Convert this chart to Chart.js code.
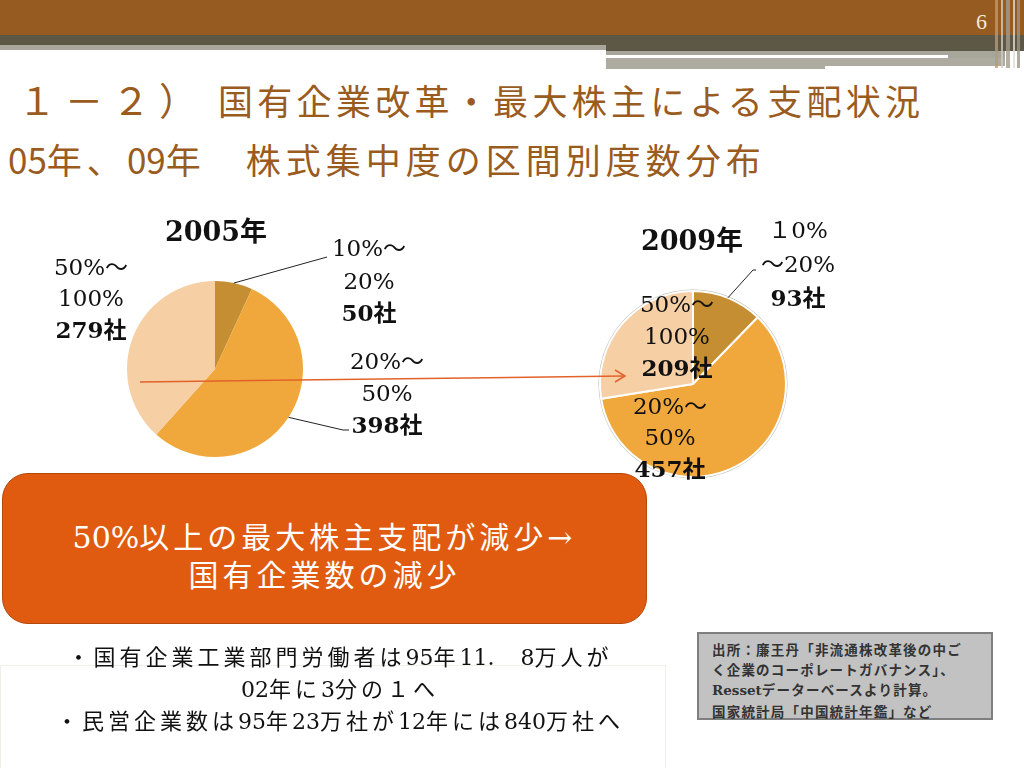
<!DOCTYPE html>
<html lang="ja">
<head>
<meta charset="utf-8">
<title>国有企業改革・最大株主による支配状況</title>
<script src="https://cdn.jsdelivr.net/npm/chart.js@4.4.1/dist/chart.umd.min.js"></script>
<style>
  html, body { margin: 0; padding: 0; background: #fff; }
  #slide { position: relative; width: 1024px; height: 768px; overflow: hidden; background: #fff; }
  .abs { position: absolute; }
  .band { position: absolute; }
  .gothic { font-family: "Noto Sans CJK JP", sans-serif; }
  .mix { font-family: "DejaVu Serif", "Noto Sans CJK JP", serif; }
  .n { letter-spacing: 0; }
  .title { color: #9A5B1E; line-height: 1; white-space: nowrap; font-weight: normal; }
  .lbl { position: absolute; text-align: center; white-space: nowrap; color: #111; font-size: 23px; transform: translateX(-50%); }
  .lbl b { font-weight: bold; }
  canvas { position: absolute; }
</style>
</head>
<body>
<div id="slide">
  <!-- header bands -->
  <div class="band" style="left:0;top:0;width:1024px;height:35px;background:#955B20;"></div>
  <div class="band" style="left:0;top:35px;width:1024px;height:10px;background:#5C5845;"></div>
  <div class="band" style="left:0;top:45px;width:606px;height:5px;background:#A9A79B;"></div>
  <div class="band" style="left:606px;top:45px;width:418px;height:6px;background:#5C5845;"></div>
  <div class="band" style="left:606px;top:51px;width:399px;height:4px;background:#A8A69A;"></div>
  <div class="band" style="left:606px;top:55px;width:342px;height:3px;background:#FFFFFF;"></div>
  <div class="band" style="left:948px;top:55px;width:57px;height:11px;background:#A8A69A;"></div>
  <div class="band" style="left:606px;top:58px;width:219px;height:11px;background:#ADABA0;"></div>
  <div class="band" style="left:825px;top:58px;width:180px;height:8px;background:#ADABA0;"></div>
  <div class="band" style="left:995px;top:0;width:3px;height:68px;background:#B89A76;opacity:.8;"></div>
  <div class="band" style="left:1001px;top:0;width:2px;height:68px;background:#D6CBBB;opacity:.8;"></div>
  <div class="band" style="left:1006px;top:0;width:4px;height:68px;background:#A39C8C;opacity:.8;"></div>
  <div class="band" style="left:1013px;top:0;width:2px;height:68px;background:#E2DCD2;opacity:.8;"></div>
  <div class="band" style="left:1017px;top:0;width:3px;height:68px;background:#9C9686;opacity:.8;"></div>
  <div class="abs" style="left:976px;top:9px;color:#F6E9D8;font:22px 'Liberation Serif',serif;">6</div>

  <!-- titles -->
  <div class="abs title gothic" style="left:18px;top:80px;font-size:38px;letter-spacing:9px;">１－２）</div>
  <div class="abs title gothic" style="left:218px;top:82px;font-size:35px;letter-spacing:4.3px;">国有企業改革・最大株主による支配状況</div>
  <div class="abs title gothic" style="left:8px;top:141px;font-size:35px;letter-spacing:5px;"><span class="n">05</span>年、<span class="n">09</span>年　株式集中度の区間別度数分布</div>

  <!-- pies -->
  <canvas id="pie2005" width="420" height="260" style="left:40px;top:210px;"></canvas>
  <canvas id="pie2009" width="260" height="280" style="left:580px;top:210px;"></canvas>

  <!-- arrow between pies -->
  <svg class="abs" style="left:0;top:0;" width="1024" height="768">
    <line x1="140" y1="382" x2="624" y2="376" stroke="#E2622A" stroke-width="1.5"/>
    <polyline points="615,370 625,376 615,382" fill="none" stroke="#E2622A" stroke-width="1.5"/>
  </svg>

  <!-- pie titles and labels -->
  <div class="lbl mix" style="left:216px;top:215px;font-size:27px;font-weight:bold;line-height:34px;">2005年</div>
  <div class="lbl mix" style="left:692px;top:224px;font-size:27px;font-weight:bold;line-height:34px;">2009年</div>

  <div class="lbl mix" style="left:369px;top:232px;line-height:32.5px;">10%〜<br>20%<br><b>50社</b></div>
  <div class="lbl mix" style="left:387px;top:345px;line-height:32px;">20%〜<br>50%<br><b>398社</b></div>
  <div class="lbl mix" style="left:91px;top:252px;line-height:31px;">50%〜<br>100%<br><b>279社</b></div>

  <div class="lbl mix" style="left:798px;top:214px;line-height:33.5px;">１0%<br>〜20%<br><b>93社</b></div>
  <div class="lbl mix" style="left:677px;top:289px;line-height:31.5px;">50%〜<br>100%<br><b>209社</b></div>
  <div class="lbl mix" style="left:670px;top:391px;line-height:31px;">20%〜<br>50%<br><b>457社</b></div>

  <!-- conclusion box -->
  <div class="abs mix" style="left:2px;top:473px;width:643px;height:149px;border-radius:26px;background:#E05A10;border:1.5px solid #B5490C;color:#fff;font-size:30px;letter-spacing:4px;line-height:38px;text-align:center;box-sizing:content-box;">
    <div style="padding-top:45px;"><span class="n">50%</span>以上の最大株主支配が減少→<br>国有企業数の減少</div>
  </div>

  <!-- notes -->
  <div class="abs" style="left:0;top:665px;width:664px;height:110px;border:1px solid #F0EFEA;"></div>
  <div class="abs mix" style="left:0;top:642px;width:680px;text-align:center;font-size:22px;letter-spacing:4px;line-height:32px;color:#111;">
    ・国有企業工業部門労働者は<span class="n">95</span>年<span class="n">11.</span>　<span class="n">8</span>万人が<br><span class="n">02</span>年に<span class="n">3</span>分の１へ<br>・民営企業数は<span class="n">95</span>年<span class="n">23</span>万社が<span class="n">12</span>年には<span class="n">840</span>万社へ
  </div>

  <!-- source -->
  <div class="abs mix" style="left:697px;top:632px;width:292px;height:84px;background:#C2C2C2;border:2px solid #7F7F7F;color:#333;font-size:13.5px;font-weight:bold;line-height:20px;letter-spacing:1.2px;">
    <div style="padding:6px 0 0 13px;">出所：廉王丹「非流通株改革後の中ご<br>く企業のコーポレートガバナンス」、<br><span class="n">Resset</span>データーベースより計算。<br><span style="display:inline-block;margin-top:2px;">国家統計局「中国統計年鑑」など</span></div>
  </div>
</div>

<script>
const categories = ['10%〜20%', '20%〜50%', '50%〜100%'];
const firms2005 = [50, 398, 279];
const firms2009 = [93, 457, 209];
const sliceColors = ['#C58E32', '#F0A83C', '#F6CFA5'];

// leader line from the middle of a slice's outer edge to a label point
const leaderLines = {
    id: 'leaderLines',
    afterDatasetsDraw(chart, args, opts) {
        const ctx = chart.ctx;
        const arcs = chart.getDatasetMeta(0).data;
        (opts.lines || []).forEach(l => {
            const arc = arcs[l.index];
            const mid = (arc.startAngle + arc.endAngle) / 2;
            const x0 = arc.x + Math.cos(mid) * arc.outerRadius;
            const y0 = arc.y + Math.sin(mid) * arc.outerRadius;
            ctx.save();
            ctx.strokeStyle = '#222';
            ctx.lineWidth = 1;
            ctx.beginPath();
            ctx.moveTo(x0, y0);
            l.to.forEach(p => ctx.lineTo(p[0], p[1]));
            ctx.stroke();
            ctx.restore();
        });
    }
};

// soft grey rim like the original's outline on the 2009 pie
const pieRim = {
    id: 'pieRim',
    beforeDatasetsDraw(chart, args, opts) {
        if (!opts.color) return;
        const arc = chart.getDatasetMeta(0).data[0];
        const ctx = chart.ctx;
        ctx.save();
        ctx.beginPath();
        ctx.arc(arc.x, arc.y, arc.outerRadius + 1.5, 0, Math.PI * 2);
        ctx.fillStyle = opts.color;
        ctx.fill();
        ctx.restore();
    }
};

function makePie(id, values, border, padding, lines, rim) {
    const ctx = document.getElementById(id).getContext('2d');
    return new Chart(ctx, {
        type: 'pie',
        data: {
            labels: categories,
            datasets: [{
                data: values,
                backgroundColor: sliceColors,
                borderColor: '#FFFFFF',
                borderWidth: border
            }]
        },
        options: {
            responsive: false,
            animation: false,
            layout: { padding: padding },
            plugins: {
                legend: { display: false },
                tooltip: { enabled: false },
                leaderLines: { lines: lines },
                pieRim: { color: rim }
            }
        },
        plugins: [pieRim, leaderLines]
    });
}

makePie('pie2005', firms2005, 0,
    { left: 87, right: 157, top: 71, bottom: 13 },
    [
        { index: 0, to: [[287, 47]] },
        { index: 1, to: [[303, 220], [309, 220]] }
    ], null);

makePie('pie2009', firms2009, 2,
    { left: 19, right: 53, top: 80, bottom: 12 },
    [
        { index: 0, to: [[173, 60], [176, 60]] }
    ], '#BDBAB2');
</script>
</body>
</html>
